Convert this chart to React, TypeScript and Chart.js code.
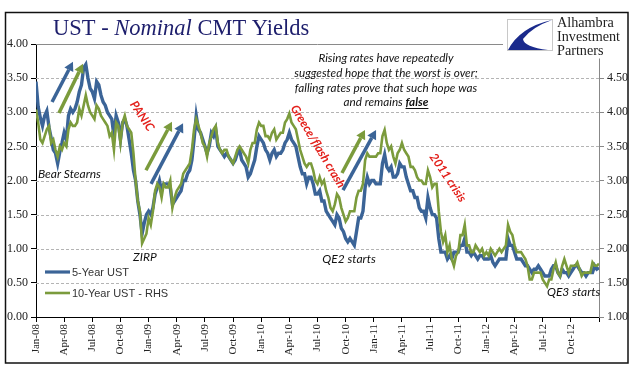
import React, { useEffect, useRef } from 'react';
import { Chart, registerables } from 'chart.js';

Chart.register(...registerables);

// ---------- DATA (weekly, Jan-2008 .. Dec-2012) ----------
const quarterLabels = [
  'Jan-08', 'Apr-08', 'Jul-08', 'Oct-08',
  'Jan-09', 'Apr-09', 'Jul-09', 'Oct-09',
  'Jan-10', 'Apr-10', 'Jul-10', 'Oct-10',
  'Jan-11', 'Apr-11', 'Jul-11', 'Oct-11',
  'Jan-12', 'Apr-12', 'Jul-12', 'Oct-12',
];

const fiveYear2008 = [
  3.45, 3.08, 2.92, 2.80, 2.95, 3.02, 2.78, 2.62, 2.45, 2.40, 2.25, 2.42, 2.55,
  2.70, 2.60, 2.95, 3.05, 3.00, 3.05, 3.15, 3.30, 3.40, 3.65, 3.70, 3.50, 3.35,
  3.30, 3.20, 3.45, 3.40, 3.25, 3.15, 3.10, 3.00, 2.95, 2.90, 2.65, 2.95, 2.85,
  2.60, 2.85, 2.90, 2.80, 2.60, 2.40, 2.15, 2.00, 1.70, 1.50, 1.22, 1.38, 1.50,
];
const fiveYear2009 = [
  1.55, 1.50, 1.60, 1.80, 1.90, 2.00, 1.85, 1.95, 1.95, 1.95, 1.90, 1.65, 1.70,
  1.75, 1.80, 1.85, 2.00, 2.00, 2.10, 2.15, 2.30, 2.60, 2.95, 2.75, 2.70, 2.60,
  2.50, 2.40, 2.50, 2.70, 2.65, 2.75, 2.50, 2.45, 2.40, 2.35, 2.40, 2.35, 2.30,
  2.25, 2.30, 2.40, 2.45, 2.30, 2.25, 2.20, 2.05, 2.10, 2.20, 2.30, 2.50, 2.65,
];
const fiveYear2010 = [
  2.60, 2.55, 2.45, 2.40, 2.30, 2.40, 2.45, 2.35, 2.40, 2.40, 2.45, 2.55, 2.60,
  2.70, 2.60, 2.55, 2.50, 2.35, 2.20, 2.10, 2.10, 1.95, 2.05, 2.05, 1.95, 1.80,
  1.80, 1.85, 1.70, 1.70, 1.55, 1.50, 1.45, 1.40, 1.35, 1.50, 1.45, 1.30, 1.25,
  1.15, 1.10, 1.15, 1.10, 1.05, 1.25, 1.45, 1.45, 1.55, 1.90, 2.05, 1.95, 2.00,
];
const fiveYear2011 = [
  2.00, 1.95, 1.95, 1.95, 2.25, 2.38, 2.20, 2.15, 2.20, 2.05, 2.05, 2.10, 2.25,
  2.20, 2.20, 2.05, 1.95, 1.85, 1.85, 1.75, 1.75, 1.60, 1.55, 1.55, 1.45, 1.75,
  1.60, 1.50, 1.50, 1.45, 1.15, 0.95, 0.95, 0.95, 0.85, 0.90, 0.85, 0.95, 0.95,
  0.95, 1.05, 1.05, 1.15, 0.95, 0.95, 0.90, 0.95, 0.90, 0.85, 0.90, 0.90, 0.85,
];
const fiveYear2012 = [
  0.85, 0.85, 0.90, 0.80, 0.75, 0.80, 0.85, 0.85, 0.85, 0.85, 1.15, 1.05, 1.05,
  0.95, 0.85, 0.85, 0.85, 0.80, 0.75, 0.75, 0.70, 0.65, 0.70, 0.70, 0.75, 0.70,
  0.65, 0.60, 0.60, 0.60, 0.70, 0.75, 0.75, 0.65, 0.60, 0.70, 0.65, 0.65, 0.60,
  0.65, 0.70, 0.75, 0.75, 0.70, 0.65, 0.65, 0.60, 0.65, 0.65, 0.65, 0.75, 0.70,
  0.72,
];

const tenYear2008 = [
  4.04, 3.85, 3.60, 3.55, 3.65, 3.75, 3.80, 3.55, 3.60, 3.45, 3.35, 3.50, 3.45,
  3.55, 3.50, 3.75, 3.85, 3.80, 3.80, 3.85, 4.05, 3.95, 4.10, 4.25, 4.10, 4.00,
  3.95, 3.90, 4.10, 4.05, 3.95, 3.90, 3.85, 3.80, 3.65, 3.70, 3.45, 3.85, 3.80,
  3.55, 3.85, 3.95, 3.80, 3.75, 3.70, 3.40, 3.00, 2.70, 2.55, 2.08, 2.15, 2.22,
];
const tenYear2009 = [
  2.45, 2.35, 2.55, 2.85, 2.95, 2.90, 2.75, 2.95, 2.90, 2.90, 3.00, 2.60, 2.75,
  2.85, 2.90, 2.95, 3.10, 3.15, 3.20, 3.25, 3.45, 3.75, 3.90, 3.80, 3.70, 3.55,
  3.50, 3.35, 3.55, 3.65, 3.75, 3.80, 3.55, 3.45, 3.40, 3.45, 3.45, 3.35, 3.30,
  3.25, 3.35, 3.45, 3.50, 3.45, 3.40, 3.35, 3.25, 3.45, 3.55, 3.55, 3.75, 3.85,
];
const tenYear2010 = [
  3.80, 3.80, 3.65, 3.65, 3.60, 3.70, 3.75, 3.60, 3.65, 3.70, 3.70, 3.85, 3.90,
  3.98, 3.85, 3.80, 3.75, 3.60, 3.45, 3.35, 3.25, 3.20, 3.25, 3.25, 3.15, 3.00,
  2.95, 3.05, 2.95, 3.00, 2.85, 2.75, 2.60, 2.55, 2.65, 2.80, 2.75, 2.60, 2.50,
  2.40, 2.45, 2.55, 2.55, 2.55, 2.75, 2.85, 2.85, 2.95, 3.30, 3.40, 3.35, 3.35,
];
const tenYear2011 = [
  3.35, 3.35, 3.40, 3.40, 3.65, 3.74, 3.55, 3.45, 3.50, 3.35, 3.25, 3.40, 3.45,
  3.55, 3.45, 3.40, 3.35, 3.20, 3.20, 3.15, 3.05, 3.00, 3.00, 2.95, 2.95, 3.15,
  3.05, 2.90, 2.95, 2.95, 2.55, 2.25, 2.10, 2.20, 1.95, 2.05, 1.85, 1.75, 1.90,
  1.95, 2.20, 2.20, 2.35, 2.05, 2.05, 1.95, 1.95, 2.05, 2.00, 1.95, 2.00, 1.90,
];
const tenYear2012 = [
  1.95, 1.90, 2.00, 1.95, 1.90, 1.95, 2.00, 1.95, 2.00, 2.05, 2.35, 2.25, 2.20,
  2.05, 1.95, 1.95, 1.95, 1.90, 1.85, 1.75, 1.55, 1.55, 1.65, 1.65, 1.65, 1.65,
  1.55, 1.50, 1.45, 1.55, 1.55, 1.70, 1.80, 1.65, 1.60, 1.75, 1.85, 1.75, 1.65,
  1.75, 1.75, 1.75, 1.80, 1.70, 1.60, 1.65, 1.65, 1.65, 1.65, 1.80, 1.75, 1.75,
  1.78,
];

const fiveYearUST = [...fiveYear2008, ...fiveYear2009, ...fiveYear2010, ...fiveYear2011, ...fiveYear2012];
const tenYearUST = [...tenYear2008, ...tenYear2009, ...tenYear2010, ...tenYear2011, ...tenYear2012];

// ---------- ANNOTATIONS (in data coordinates: x = months since Jan-08, y = left axis) ----------
const labelNotes = [
  { text: 'Bear Stearns', x: 0.2, y: 2.1, color: '#111', bold: false, angle: 0, align: 'left' },
  { text: 'PANIC', x: 11.3, y: 2.945, color: '#e3201b', bold: true, angle: 56, align: 'center' },
  { text: 'ZIRP', x: 11.6, y: 0.88, color: '#111', bold: false, angle: 0, align: 'center' },
  { text: 'Greece/flash crash', x: 30.05, y: 2.5, color: '#e3201b', bold: true, angle: 59, align: 'center' },
  { text: 'QE2 starts', x: 33.36, y: 0.85, color: '#111', bold: false, angle: 0, align: 'center' },
  { text: '2011 crisis', x: 43.9, y: 2.04, color: '#e3201b', bold: true, angle: 56, align: 'center' },
  { text: 'QE3 starts', x: 57.3, y: 0.37, color: '#111', bold: false, angle: 0, align: 'center' },
];
const commentLines = [
  'Rising rates have repeatedly',
  'suggested hope that the worst is over;',
  'falling rates prove that such hope was',
];
const commentLast = ['and remains ', 'false'];
const commentX = 37.3;
const commentY = [3.795, 3.575, 3.355, 3.15];

const BLUE = '#3b6497';
const GREEN = '#7b9b3c';

const arrows = [
  { c: BLUE, x0: 1.71, y0: 3.15, x1: 3.94, y1: 3.74 },
  { c: GREEN, x0: 2.45, y0: 2.99, x1: 5.01, y1: 3.71 },
  { c: GREEN, x0: 11.72, y0: 2.15, x1: 14.49, y1: 2.86 },
  { c: BLUE, x0: 12.26, y0: 1.95, x1: 15.67, y1: 2.84 },
  { c: GREEN, x0: 32.61, y0: 2.11, x1: 35.06, y1: 2.74 },
  { c: BLUE, x0: 32.72, y0: 1.86, x1: 36.24, y1: 2.74 },
];

const SERIF = '"Liberation Serif", "Times New Roman", serif';
const SANS_NOTE = 'Lato, "Open Sans", sans-serif';
const NOTE_SIZE = 11.7;

const drawPlugin = {
  id: 'ustDecor',
  beforeDatasetsDraw(chart: any) {
    const { ctx, chartArea, scales } = chart;
    const y = scales.y;
    ctx.save();
    for (let v = 0.5; v <= 4.0001; v += 0.5) {
      const py = Math.round(y.getPixelForValue(v)) + 0.5;
      ctx.beginPath();
      if (v > 3.99) {
        ctx.setLineDash([]);
        ctx.strokeStyle = '#8a8a8a';
      } else {
        ctx.setLineDash([3, 2]);
        ctx.strokeStyle = '#b4b4b4';
      }
      ctx.lineWidth = 1;
      ctx.moveTo(chartArea.left, py);
      ctx.lineTo(chartArea.right, py);
      ctx.stroke();
    }
    ctx.restore();
  },
  afterDatasetsDraw(chart: any) {
    const { ctx, chartArea, scales } = chart;
    const xs = scales.x;
    const ys = scales.y;
    ctx.save();
    // arrows
    for (const a of arrows) {
      const x0 = xs.getPixelForValue(a.x0), y0 = ys.getPixelForValue(a.y0);
      const x1 = xs.getPixelForValue(a.x1), y1 = ys.getPixelForValue(a.y1);
      const ang = Math.atan2(y1 - y0, x1 - x0);
      const headLen = 9, headW = 5;
      const bx = x1 - headLen * Math.cos(ang), by = y1 - headLen * Math.sin(ang);
      ctx.strokeStyle = a.c;
      ctx.fillStyle = a.c;
      ctx.lineWidth = 3.5;
      ctx.lineCap = 'butt';
      ctx.beginPath();
      ctx.moveTo(x0, y0);
      ctx.lineTo(bx, by);
      ctx.stroke();
      ctx.beginPath();
      ctx.moveTo(x1, y1);
      ctx.lineTo(bx + headW * Math.sin(ang), by - headW * Math.cos(ang));
      ctx.lineTo(bx - headW * Math.sin(ang), by + headW * Math.cos(ang));
      ctx.closePath();
      ctx.fill();
    }
    // labels
    for (const n of labelNotes) {
      const px = xs.getPixelForValue(n.x), py = ys.getPixelForValue(n.y);
      ctx.save();
      ctx.translate(px, py);
      ctx.rotate((n.angle * Math.PI) / 180);
      ctx.font = `italic ${n.bold ? 'bold ' : ''}12px ${SANS_NOTE}`;
      ctx.fillStyle = n.color;
      ctx.textAlign = n.align as CanvasTextAlign;
      ctx.textBaseline = 'middle';
      ctx.fillText(n.text, 0, 0);
      ctx.restore();
    }
    // comment block
    const cx = xs.getPixelForValue(commentX);
    ctx.fillStyle = '#111';
    ctx.textBaseline = 'middle';
    ctx.textAlign = 'center';
    ctx.font = `italic ${NOTE_SIZE}px ${SANS_NOTE}`;
    commentLines.forEach((t, i) => ctx.fillText(t, cx, ys.getPixelForValue(commentY[i])));
    {
      const ly = ys.getPixelForValue(commentY[3]);
      ctx.font = `italic ${NOTE_SIZE}px ${SANS_NOTE}`;
      const w1 = ctx.measureText(commentLast[0]).width;
      ctx.font = `italic bold ${NOTE_SIZE}px ${SANS_NOTE}`;
      const w2 = ctx.measureText(commentLast[1]).width;
      const sx = cx - (w1 + w2) / 2;
      ctx.textAlign = 'left';
      ctx.font = `italic ${NOTE_SIZE}px ${SANS_NOTE}`;
      ctx.fillText(commentLast[0], sx, ly);
      ctx.font = `italic bold ${NOTE_SIZE}px ${SANS_NOTE}`;
      ctx.fillText(commentLast[1], sx + w1, ly);
      ctx.fillRect(sx + w1, ly + 6, w2, 1);
    }
    // legend
    const lx = chartArea.left + 9;
    const legendItems = [
      { label: '5-Year UST', color: BLUE, w: 3.2, dy: 45 },
      { label: '10-Year UST - RHS', color: GREEN, w: 2.6, dy: 24 },
    ];
    ctx.font = '11px "Liberation Sans", Arial, sans-serif';
    ctx.textAlign = 'left';
    ctx.textBaseline = 'middle';
    for (const it of legendItems) {
      const ly = chartArea.bottom - it.dy;
      ctx.strokeStyle = it.color;
      ctx.lineWidth = it.w;
      ctx.beginPath();
      ctx.moveTo(lx, ly);
      ctx.lineTo(lx + 25, ly);
      ctx.stroke();
      ctx.fillStyle = '#333';
      ctx.fillText(it.label, lx + 27, ly + 0.5);
    }
    ctx.restore();
  },
  afterDraw(chart: any) {
    const { ctx } = chart;
    ctx.save();
    // title
    ctx.fillStyle = '#1d1e6c';
    ctx.textBaseline = 'alphabetic';
    ctx.textAlign = 'left';
    let tx = 53;
    const parts: [string, boolean][] = [['UST - ', false], ['Nominal', true], [' CMT Yields', false]];
    for (const [t, it] of parts) {
      ctx.font = `${it ? 'italic ' : ''}22.5px ${SERIF}`;
      ctx.fillText(t, tx, 35);
      tx += ctx.measureText(t).width;
    }
    // logo
    ctx.fillStyle = '#fff';
    ctx.fillRect(503, 13.5, 124, 45);
    ctx.strokeStyle = '#c8c8c8';
    ctx.lineWidth = 1;
    ctx.strokeRect(507.5, 19.5, 45, 31);
    ctx.fillStyle = '#1a2a8c';
    ctx.beginPath();
    ctx.moveTo(552, 20);
    ctx.quadraticCurveTo(520, 27, 508, 50);
    ctx.lineTo(548, 50);
    ctx.quadraticCurveTo(524, 47, 523, 39);
    ctx.quadraticCurveTo(532, 27, 552, 20);
    ctx.closePath();
    ctx.fill();
    ctx.fillStyle = '#222';
    ctx.font = `14.2px ${SERIF}`;
    ctx.fillText('Alhambra', 557, 27);
    ctx.fillText('Investment', 557, 41);
    ctx.fillText('Partners', 557, 55);
    // outer frame
    ctx.strokeStyle = '#111';
    ctx.lineWidth = 1.5;
    ctx.strokeRect(5.5, 12.5, 622.5, 350.5);
    ctx.restore();
  },
};

export default function App() {
  const ref = useRef<HTMLCanvasElement | null>(null);
  useEffect(() => {
    if (!ref.current) return;
    const toPts = (arr: number[]) => arr.map((v, i) => ({ x: (i * 12) / 52, y: v }));
    const chart = new Chart(ref.current, {
      type: 'line',
      data: {
        datasets: [
          {
            label: '5-Year UST',
            data: toPts(fiveYearUST),
            borderColor: BLUE,
            borderWidth: 3.4,
            pointRadius: 0,
            tension: 0,
            yAxisID: 'y',
            order: 2,
          },
          {
            label: '10-Year UST - RHS',
            data: toPts(tenYearUST),
            borderColor: GREEN,
            borderWidth: 2.6,
            pointRadius: 0,
            tension: 0,
            yAxisID: 'y2',
            order: 1,
          },
        ],
      },
      options: {
        animation: false,
        responsive: false,
        devicePixelRatio: 1,
        layout: { padding: { top: 44, left: 0, right: 0, bottom: 0 } },
        plugins: { legend: { display: false }, tooltip: { enabled: false }, title: { display: false } },
        scales: {
          x: {
            type: 'linear',
            min: 0,
            max: 60,
            afterBuildTicks: (s: any) => {
              s.ticks = Array.from({ length: 21 }, (_, i) => ({ value: i * 3 }));
            },
            afterFit: (s: any) => { s.height = 64; },
            ticks: {
              autoSkip: false,
              minRotation: 90,
              maxRotation: 90,
              padding: 2,
              color: '#222',
              font: { family: SERIF, size: 11 },
              callback: (v: any) => quarterLabels[Math.round(Number(v) / 3)] ?? '',
            },
            grid: { drawOnChartArea: false, drawTicks: true, tickLength: 5, color: '#000' },
            border: { color: '#000', width: 1 },
          },
          y: {
            position: 'left',
            min: 0,
            max: 4,
            afterFit: (s: any) => { s.width = 36; },
            ticks: {
              stepSize: 0.5,
              padding: 3,
              color: '#222',
              font: { family: SERIF, size: 12 },
              callback: (v: any) => Number(v).toFixed(2),
            },
            grid: { drawOnChartArea: false, drawTicks: true, tickLength: 5, color: '#000' },
            border: { color: '#000', width: 1 },
          },
          y2: {
            position: 'right',
            min: 1,
            max: 5,
            afterFit: (s: any) => { s.width = 45; },
            ticks: {
              stepSize: 0.5,
              padding: 3,
              color: '#222',
              font: { family: SERIF, size: 12 },
              callback: (v: any) => (Number(v) >= 4.99 ? '' : Number(v).toFixed(2)),
            },
            grid: { drawOnChartArea: false, drawTicks: true, tickLength: 5, color: '#888' },
            border: { color: '#888', width: 1 },
          },
        },
      },
      plugins: [drawPlugin],
    } as any);
    return () => chart.destroy();
  }, []);
  return (
    <div style={{ position: 'fixed', left: 0, top: 0, width: 644, height: 381, background: '#fff' }}>
      <canvas ref={ref} width={644} height={381} style={{ display: 'block' }} />
    </div>
  );
}
